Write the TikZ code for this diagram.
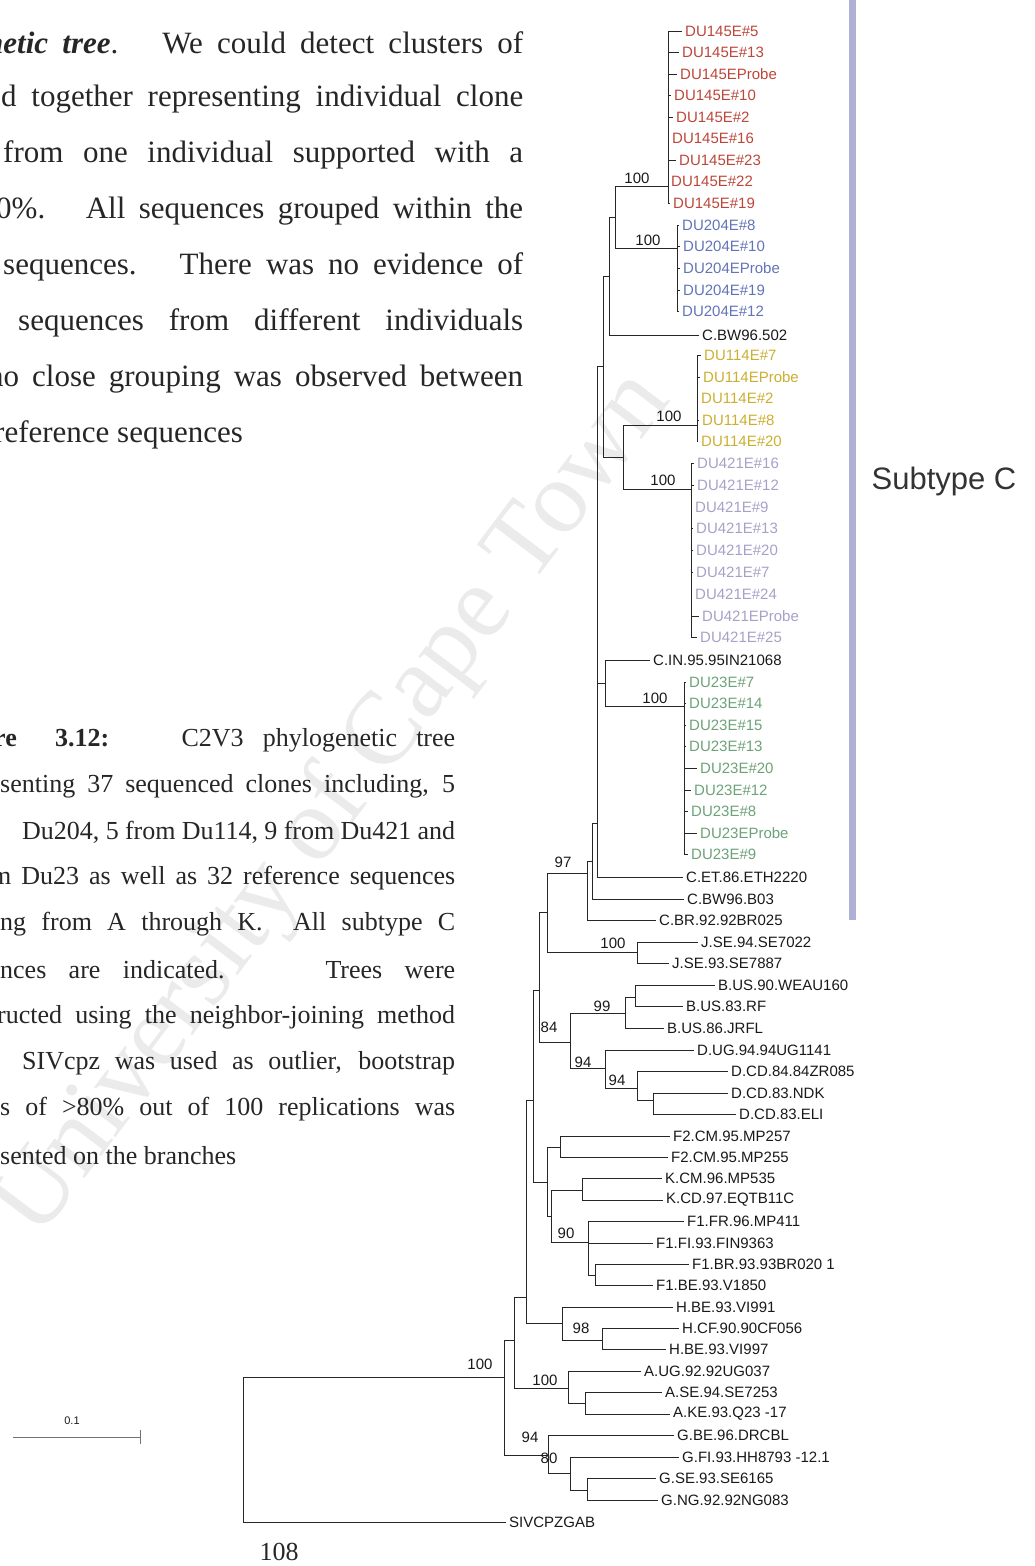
\documentclass[tikz,border=0pt]{standalone}
\usepackage{fontspec}
\setmainfont{Liberation Serif}
\newfontfamily\treefont{Liberation Sans}
\definecolor{cloneRed}{RGB}{188,70,58}
\definecolor{cloneBlue}{RGB}{98,116,184}
\definecolor{cloneGold}{RGB}{204,174,48}
\definecolor{cloneLilac}{RGB}{168,160,200}
\definecolor{cloneGreen}{RGB}{108,162,120}
\definecolor{subtypeBar}{RGB}{176,176,214}
\tikzset{
  branch/.style={line width=0.85pt, black!85},
  leaflab/.style={anchor=west, inner xsep=3pt, inner ysep=1pt, text=black!90, font={\treefont\fontsize{15}{15}\selectfont}},
  bootlab/.style={inner sep=0pt, text=black!90, font={\treefont\fontsize{15}{15}\selectfont}},
  bodyline/.style={anchor=west, inner sep=0pt, text=black!85, font={\fontsize{31}{31}\selectfont}},
  capline/.style={anchor=west, inner sep=0pt, text=black!85, font={\fontsize{26}{26}\selectfont}},
}

\begin{document}
\begin{tikzpicture}[x=1pt, y=-1pt]
\useasboundingbox (0,0) rectangle (1034,1566);
\node[rotate=53, text=black!8, font={\fontsize{104}{104}\selectfont}] (wmark) at (335,805) {University of Cape Town};

% running text
\node[bodyline] (body1) at (-14,43) {\makebox[537pt][s]{{\bfseries\itshape netic tree}. \ We could detect clusters of}};
\node[bodyline] (body2) at (1,99) {\makebox[522pt][s]{d together representing individual clone}};
\node[bodyline] (body3) at (3,155) {\makebox[520pt][s]{from one individual supported with a}};
\node[bodyline] (body4) at (-4,211) {\makebox[527pt][s]{0\%. \ All sequences grouped within the}};
\node[bodyline] (body5) at (3,267) {\makebox[520pt][s]{sequences. \ There was no evidence of}};
\node[bodyline] (body6) at (18,323) {\makebox[505pt][s]{sequences from different individuals}};
\node[bodyline] (body7) at (-12,379) {\makebox[535pt][s]{no close grouping was observed between}};
\node[bodyline] (body8) at (-6,435) {reference sequences};

% caption
\node[capline] (cap1) at (-6,740) {\makebox[461pt][s]{{\bfseries re \ 3.12:} \ \ C2V3 phylogenetic tree}};
\node[capline] (cap2) at (0,786) {\makebox[455pt][s]{senting 37 sequenced clones including, 5}};
\node[capline] (cap3) at (22,832) {\makebox[433pt][s]{Du204, 5 from Du114, 9 from Du421 and}};
\node[capline] (cap4) at (-9,878) {\makebox[464pt][s]{m Du23 as well as 32 reference sequences}};
\node[capline] (cap5) at (0,924) {\makebox[455pt][s]{ng from A through K. \ All subtype C}};
\node[capline] (cap6) at (0,970) {\makebox[455pt][s]{nces are indicated. \ \ Trees were}};
\node[capline] (cap7) at (-3,1017) {\makebox[458pt][s]{ructed using the neighbor-joining method}};
\node[capline] (cap8) at (22,1063) {\makebox[433pt][s]{SIVcpz was used as outlier, bootstrap}};
\node[capline] (cap9) at (0,1109) {\makebox[455pt][s]{s of >80\% out of 100 replications was}};
\node[capline] (cap10) at (0,1156) {sented on the branches};
\node[capline, anchor=center] (pageno) at (279,1552) {108};

% subtype C bar
\fill[subtypeBar] (849,0) rectangle (856,920);
\node[text=black!80, font={\treefont\fontsize{31}{31}\selectfont}] (subC) at (944,481) {Subtype C};

% scale bar
\coordinate (sbL) at (13,1437);
\coordinate (sbR) at (140,1437);
\draw[branch, black!55] (sbL) -- (sbR);
\draw[branch, black!55] ([yshift=-7pt]sbR) -- ([yshift=7pt]sbR);
\node[bootlab, font={\treefont\fontsize{11}{11}\selectfont}] (sbLab) at (72,1421) {0.1};

% internal nodes
\coordinate (root) at (243,1450);
\coordinate (ingrp) at (504,1377);
\coordinate (spA) at (514,1340);
\coordinate (spH) at (526,1297);
\coordinate (spFK) at (533,1100);
\coordinate (cjbd) at (539,990);
\coordinate (cj) at (547,912);
\coordinate (c97) at (587,873);
\coordinate (cs1) at (592,861);
\coordinate (cs2) at (597,823);
\coordinate (cup) at (603,366);
\coordinate (n2) at (609,276);
\coordinate (n1) at (615,217);
\coordinate (du145) at (668,186);
\coordinate (du204) at (677,248);
\coordinate (n3) at (623,457);
\coordinate (du114) at (697,425);
\coordinate (du421) at (691,489);
\coordinate (cin) at (605,683);
\coordinate (du23) at (684,706);
\coordinate (jj) at (637,952);
\coordinate (bd) at (570,1042);
\coordinate (bb) at (625,1013);
\coordinate (bbin) at (635,997);
\coordinate (dd) at (605,1068);
\coordinate (ddb) at (637,1088);
\coordinate (ddc) at (653,1100);
\coordinate (fk) at (547,1182);
\coordinate (f2) at (560,1147);
\coordinate (kf1) at (551,1216);
\coordinate (kk) at (582,1190);
\coordinate (f1) at (588,1242);
\coordinate (f1b) at (595,1275);
\coordinate (hh) at (562,1323);
\coordinate (hhb) at (602,1340);
\coordinate (aa) at (568,1388);
\coordinate (aab) at (585,1403);
\coordinate (gg) at (548,1455);
\coordinate (ggb) at (570,1473);
\coordinate (ggc) at (587,1490);

% leaves
\node[leaflab, text=cloneRed] (t145a) at (682,31) {DU145E\#5};
\node[leaflab, text=cloneRed] (t145b) at (679,52) {DU145E\#13};
\node[leaflab, text=cloneRed] (t145c) at (677,74) {DU145EProbe};
\node[leaflab, text=cloneRed] (t145d) at (671,95) {DU145E\#10};
\node[leaflab, text=cloneRed] (t145e) at (673,117) {DU145E\#2};
\node[leaflab, text=cloneRed] (t145f) at (669,138) {DU145E\#16};
\node[leaflab, text=cloneRed] (t145g) at (676,160) {DU145E\#23};
\node[leaflab, text=cloneRed] (t145h) at (668,181) {DU145E\#22};
\node[leaflab, text=cloneRed] (t145i) at (670,203) {DU145E\#19};
\node[leaflab, text=cloneBlue] (t204a) at (679,225) {DU204E\#8};
\node[leaflab, text=cloneBlue] (t204b) at (680,246) {DU204E\#10};
\node[leaflab, text=cloneBlue] (t204c) at (680,268) {DU204EProbe};
\node[leaflab, text=cloneBlue] (t204d) at (680,290) {DU204E\#19};
\node[leaflab, text=cloneBlue] (t204e) at (679,311) {DU204E\#12};
\node[leaflab] (cbw502) at (699,335) {C.BW96.502};
\node[leaflab, text=cloneGold] (t114a) at (701,355) {DU114E\#7};
\node[leaflab, text=cloneGold] (t114b) at (700,377) {DU114EProbe};
\node[leaflab, text=cloneGold] (t114c) at (698,398) {DU114E\#2};
\node[leaflab, text=cloneGold] (t114d) at (699,420) {DU114E\#8};
\node[leaflab, text=cloneGold] (t114e) at (698,441) {DU114E\#20};
\node[leaflab, text=cloneLilac] (t421a) at (694,463) {DU421E\#16};
\node[leaflab, text=cloneLilac] (t421b) at (694,485) {DU421E\#12};
\node[leaflab, text=cloneLilac] (t421c) at (692,507) {DU421E\#9};
\node[leaflab, text=cloneLilac] (t421d) at (693,528) {DU421E\#13};
\node[leaflab, text=cloneLilac] (t421e) at (693,550) {DU421E\#20};
\node[leaflab, text=cloneLilac] (t421f) at (693,572) {DU421E\#7};
\node[leaflab, text=cloneLilac] (t421g) at (692,594) {DU421E\#24};
\node[leaflab, text=cloneLilac] (t421h) at (699,616) {DU421EProbe};
\node[leaflab, text=cloneLilac] (t421i) at (697,637) {DU421E\#25};
\node[leaflab] (cin95) at (650,660) {C.IN.95.95IN21068};
\node[leaflab, text=cloneGreen] (t23a) at (686,682) {DU23E\#7};
\node[leaflab, text=cloneGreen] (t23b) at (686,703) {DU23E\#14};
\node[leaflab, text=cloneGreen] (t23c) at (686,725) {DU23E\#15};
\node[leaflab, text=cloneGreen] (t23d) at (686,746) {DU23E\#13};
\node[leaflab, text=cloneGreen] (t23e) at (697,768) {DU23E\#20};
\node[leaflab, text=cloneGreen] (t23f) at (691,790) {DU23E\#12};
\node[leaflab, text=cloneGreen] (t23g) at (688,811) {DU23E\#8};
\node[leaflab, text=cloneGreen] (t23h) at (697,833) {DU23EProbe};
\node[leaflab, text=cloneGreen] (t23i) at (688,854) {DU23E\#9};
\node[leaflab] (cet86) at (683,877) {C.ET.86.ETH2220};
\node[leaflab] (cbw03) at (684,899) {C.BW96.B03};
\node[leaflab] (cbr92) at (656,920) {C.BR.92.92BR025};
\node[leaflab] (jse94) at (698,942) {J.SE.94.SE7022};
\node[leaflab] (jse93) at (669,963) {J.SE.93.SE7887};
\node[leaflab] (bus90) at (715,985) {B.US.90.WEAU160};
\node[leaflab] (bus83) at (683,1006) {B.US.83.RF};
\node[leaflab] (bus86) at (664,1028) {B.US.86.JRFL};
\node[leaflab] (dug94) at (694,1050) {D.UG.94.94UG1141};
\node[leaflab] (dcd84) at (728,1071) {D.CD.84.84ZR085};
\node[leaflab] (dcdndk) at (728,1093) {D.CD.83.NDK};
\node[leaflab] (dcdeli) at (736,1114) {D.CD.83.ELI};
\node[leaflab] (f2mp257) at (670,1136) {F2.CM.95.MP257};
\node[leaflab] (f2mp255) at (668,1157) {F2.CM.95.MP255};
\node[leaflab] (kcm96) at (662,1178) {K.CM.96.MP535};
\node[leaflab] (kcd97) at (663,1200) {K.CD.97.EQTB11C};
\node[leaflab] (f1fr96) at (684,1221) {F1.FR.96.MP411};
\node[leaflab] (f1fi93) at (653,1243) {F1.FI.93.FIN9363};
\node[leaflab] (f1br93) at (689,1264) {F1.BR.93.93BR020 1};
\node[leaflab] (f1be93) at (653,1285) {F1.BE.93.V1850};
\node[leaflab] (hbe991) at (673,1307) {H.BE.93.VI991};
\node[leaflab] (hcf90) at (679,1328) {H.CF.90.90CF056};
\node[leaflab] (hbe997) at (666,1349) {H.BE.93.VI997};
\node[leaflab] (aug92) at (641,1371) {A.UG.92.92UG037};
\node[leaflab] (ase94) at (662,1392) {A.SE.94.SE7253};
\node[leaflab] (ake93) at (670,1414) {A.KE.93.Q23 -17};
\node[leaflab] (gbe96) at (674,1435) {G.BE.96.DRCBL};
\node[leaflab] (gfi93) at (679,1457) {G.FI.93.HH8793 -12.1};
\node[leaflab] (gse93) at (656,1478) {G.SE.93.SE6165};
\node[leaflab] (gng92) at (658,1500) {G.NG.92.92NG083};
\node[leaflab] (sivcpz) at (506,1522) {SIVCPZGAB};

% branches
\draw[branch] (root) |- (ingrp);
\draw[branch] (root) |- (sivcpz.west);
\draw[branch] (ingrp) |- (spA);
\draw[branch] (ingrp) |- (gg);
\draw[branch] (spA) |- (spH);
\draw[branch] (spA) |- (aa);
\draw[branch] (spH) |- (spFK);
\draw[branch] (spH) |- (hh);
\draw[branch] (spFK) |- (cjbd);
\draw[branch] (spFK) |- (fk);
\draw[branch] (cjbd) |- (cj);
\draw[branch] (cjbd) |- (bd);
\draw[branch] (cj) |- (c97);
\draw[branch] (cj) |- (jj);
\draw[branch] (c97) |- (cs1);
\draw[branch] (c97) |- (cbr92.west);
\draw[branch] (cs1) |- (cs2);
\draw[branch] (cs1) |- (cbw03.west);
\draw[branch] (cs2) |- (cup);
\draw[branch] (cs2) |- (cin);
\draw[branch] (cs2) |- (cet86.west);
\draw[branch] (cup) |- (n2);
\draw[branch] (cup) |- (n3);
\draw[branch] (n2) |- (n1);
\draw[branch] (n2) |- (cbw502.west);
\draw[branch] (n1) |- (du145);
\draw[branch] (n1) |- (du204);
\draw[branch] (n3) |- (du114);
\draw[branch] (n3) |- (du421);
\draw[branch] (cin) |- (cin95.west);
\draw[branch] (cin) |- (du23);
\foreach \leafname in {t145a,t145b,t145c,t145d,t145e,t145f,t145g,t145h,t145i}
  \draw[branch] (du145) |- (\leafname.west);
\foreach \leafname in {t204a,t204b,t204c,t204d,t204e}
  \draw[branch] (du204) |- (\leafname.west);
\foreach \leafname in {t114a,t114b,t114c,t114d,t114e}
  \draw[branch] (du114) |- (\leafname.west);
\foreach \leafname in {t421a,t421b,t421c,t421d,t421e,t421f,t421g,t421h,t421i}
  \draw[branch] (du421) |- (\leafname.west);
\foreach \leafname in {t23a,t23b,t23c,t23d,t23e,t23f,t23g,t23h,t23i}
  \draw[branch] (du23) |- (\leafname.west);
\draw[branch] (jj) |- (jse94.west);
\draw[branch] (jj) |- (jse93.west);
\draw[branch] (bd) |- (bb);
\draw[branch] (bd) |- (dd);
\draw[branch] (bb) |- (bbin);
\draw[branch] (bb) |- (bus86.west);
\draw[branch] (bbin) |- (bus90.west);
\draw[branch] (bbin) |- (bus83.west);
\draw[branch] (dd) |- (dug94.west);
\draw[branch] (dd) |- (ddb);
\draw[branch] (ddb) |- (dcd84.west);
\draw[branch] (ddb) |- (ddc);
\draw[branch] (ddc) |- (dcdndk.west);
\draw[branch] (ddc) |- (dcdeli.west);
\draw[branch] (fk) |- (f2);
\draw[branch] (fk) |- (kf1);
\draw[branch] (f2) |- (f2mp257.west);
\draw[branch] (f2) |- (f2mp255.west);
\draw[branch] (kf1) |- (kk);
\draw[branch] (kf1) |- (f1);
\draw[branch] (kk) |- (kcm96.west);
\draw[branch] (kk) |- (kcd97.west);
\draw[branch] (f1) |- (f1fr96.west);
\draw[branch] (f1) |- (f1fi93.west);
\draw[branch] (f1) |- (f1b);
\draw[branch] (f1b) |- (f1br93.west);
\draw[branch] (f1b) |- (f1be93.west);
\draw[branch] (hh) |- (hbe991.west);
\draw[branch] (hh) |- (hhb);
\draw[branch] (hhb) |- (hcf90.west);
\draw[branch] (hhb) |- (hbe997.west);
\draw[branch] (aa) |- (aug92.west);
\draw[branch] (aa) |- (aab);
\draw[branch] (aab) |- (ase94.west);
\draw[branch] (aab) |- (ake93.west);
\draw[branch] (gg) |- (gbe96.west);
\draw[branch] (gg) |- (ggb);
\draw[branch] (ggb) |- (gfi93.west);
\draw[branch] (ggb) |- (ggc);
\draw[branch] (ggc) |- (gse93.west);
\draw[branch] (ggc) |- (gng92.west);

% bootstrap values
\node[bootlab] (bs145) at (637,178) {100};
\node[bootlab] (bs204) at (648,240) {100};
\node[bootlab] (bs114) at (669,416) {100};
\node[bootlab] (bs421) at (663,480) {100};
\node[bootlab] (bs23) at (655,698) {100};
\node[bootlab] (bsc97) at (563,862) {97};
\node[bootlab] (bsj) at (613,943) {100};
\node[bootlab] (bsb) at (602,1006) {99};
\node[bootlab] (bsbd) at (549,1027) {84};
\node[bootlab] (bsd) at (583,1062) {94};
\node[bootlab] (bsdb) at (617,1080) {94};
\node[bootlab] (bsf1) at (566,1233) {90};
\node[bootlab] (bsh) at (581,1328) {98};
\node[bootlab] (bsroot) at (480,1364) {100};
\node[bootlab] (bsa) at (545,1380) {100};
\node[bootlab] (bsg) at (530,1437) {94};
\node[bootlab] (bsgb) at (549,1458) {80};
\end{tikzpicture}
\end{document}
